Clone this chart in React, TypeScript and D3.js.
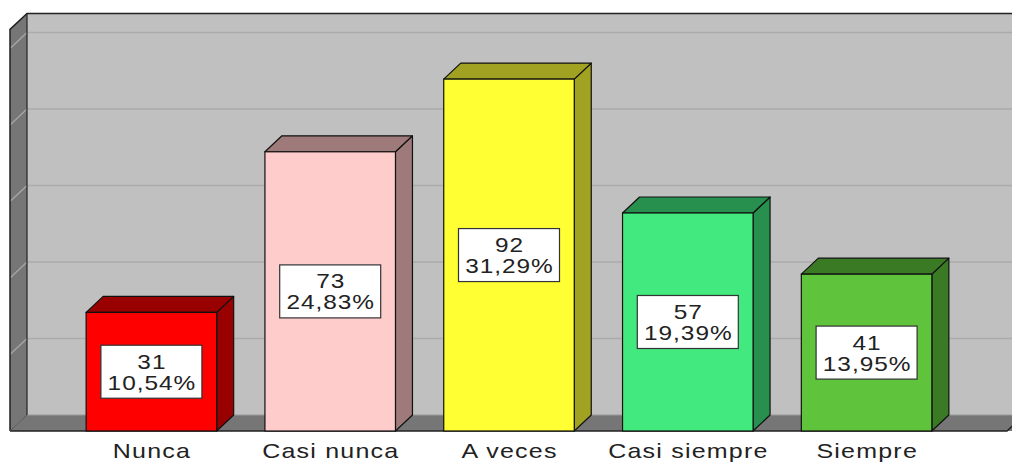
import React from "react";
import * as d3 from "d3";

const categories = ["Nunca", "Casi nunca", "A veces", "Casi siempre", "Siempre"];
const counts = [31, 73, 92, 57, 41];
const percents = ["10,54%", "24,83%", "31,29%", "19,39%", "13,95%"];
const frontColors = ["#FF0000", "#FFCCCC", "#FFFF33", "#42E97F", "#5FC33B"];
const sideColors = ["#990000", "#9E7A7A", "#A2A222", "#27904F", "#3A7A24"];
const gridTicks = [20, 40, 60, 80, 100];

const W = 1012;
const H = 463;
const DX = 17;
const DY = 16;
const X0 = 10;
const X1 = 1007;
const FLOOR = 431;
const SX = 1.22;

export default function App() {
  const y = d3.scaleLinear().domain([0, 105]).range([FLOOR, 29.4]);
  const x = d3
    .scaleBand<string>()
    .domain(categories)
    .range([62, 956])
    .paddingInner(0.27)
    .paddingOuter(0.135);
  const bw = x.bandwidth();
  const top = y(105);
  const font = "'Liberation Sans', Arial, sans-serif";

  const label = (txt: string, tx: number, ty: number, fs: number, ls: number, key: string) => (
    <text
      key={key}
      transform={`translate(${tx + (ls * SX) / 2},${ty}) scale(${SX},1)`}
      textAnchor="middle"
      fontFamily={font}
      fontSize={fs}
      letterSpacing={ls}
      fill="#222"
    >
      {txt}
    </text>
  );

  return (
    <svg
      width={W}
      height={H}
      style={{ position: "absolute", left: 0, top: 0, background: "#fff" }}
    >
      {/* back wall */}
      <rect x={X0 + DX} y={top - DY} width={X1 - X0 + 40} height={FLOOR - top} fill="#C0C0C0" />
      {gridTicks.map((t) => (
        <line
          key={"g" + t}
          x1={X0 + DX}
          x2={X1 + DX + 20}
          y1={y(t) - DY}
          y2={y(t) - DY}
          stroke="#ABABAB"
          strokeWidth={1.5}
        />
      ))}
      {/* left wall */}
      <polygon
        points={`${X0},${top} ${X0 + DX},${top - DY} ${X0 + DX},${FLOOR - DY} ${X0},${FLOOR}`}
        fill="#767676"
      />
      {gridTicks.map((t) => (
        <line
          key={"lg" + t}
          x1={X0}
          y1={y(t)}
          x2={X0 + DX}
          y2={y(t) - DY}
          stroke="#A8A8A8"
          strokeWidth={1.2}
        />
      ))}
      {/* floor */}
      <polygon
        points={`${X0},${FLOOR} ${X0 + DX},${FLOOR - DY} ${X1 + DX + 20},${FLOOR - DY} ${X1 + 20},${FLOOR}`}
        fill="#767676"
      />
      <line x1={X0 + DX} y1={FLOOR - DY} x2={X1 + DX + 20} y2={FLOOR - DY} stroke="#9A9A9A" strokeWidth={1} />
      {/* outlines */}
      <line x1={X0 + DX} y1={top - DY} x2={X0 + DX} y2={FLOOR - DY} stroke="#222" strokeWidth={1.2} />
      <path
        d={`M${X0},${FLOOR} L${X0},${top} L${X0 + DX},${top - DY} L${W + 5},${top - DY}`}
        fill="none"
        stroke="#222"
        strokeWidth={1.5}
      />
      <path
        d={`M${X0},${FLOOR} L${X1},${FLOOR} L${X1 + DX},${FLOOR - DY}`}
        fill="none"
        stroke="#222"
        strokeWidth={1.5}
      />
      <line x1={X0} y1={FLOOR} x2={X0 + DX} y2={FLOOR - DY} stroke="#555" strokeWidth={1} />

      {/* bars */}
      {categories.map((c, i) => {
        const bx = x(c) as number;
        const by = y(counts[i]);
        const cx = bx + bw / 2;
        const cy = (by + FLOOR) / 2;
        return (
          <g key={c}>
            <polygon
              points={`${bx + bw},${by} ${bx + bw + DX},${by - DY} ${bx + bw + DX},${FLOOR - DY} ${bx + bw},${FLOOR}`}
              fill={sideColors[i]}
              stroke="#111"
              strokeWidth={1.2}
              strokeLinejoin="round"
            />
            <polygon
              points={`${bx},${by} ${bx + DX},${by - DY} ${bx + bw + DX},${by - DY} ${bx + bw},${by}`}
              fill={sideColors[i]}
              stroke="#111"
              strokeWidth={1.2}
              strokeLinejoin="round"
            />
            <rect
              x={bx}
              y={by}
              width={bw}
              height={FLOOR - by}
              fill={frontColors[i]}
              stroke="#111"
              strokeWidth={1.2}
            />
            <rect
              x={cx - 50.5}
              y={cy - 26.5}
              width={101}
              height={53}
              fill="#fff"
              stroke="#333"
              strokeWidth={1.2}
            />
            {label(String(counts[i]), cx, cy - 3, 20, 0.8, "v")}
            {label(percents[i], cx, cy + 18, 20, 0.8, "p")}
            {label(c, cx, 458, 20.5, 1.0, "c")}
          </g>
        );
      })}
    </svg>
  );
}
